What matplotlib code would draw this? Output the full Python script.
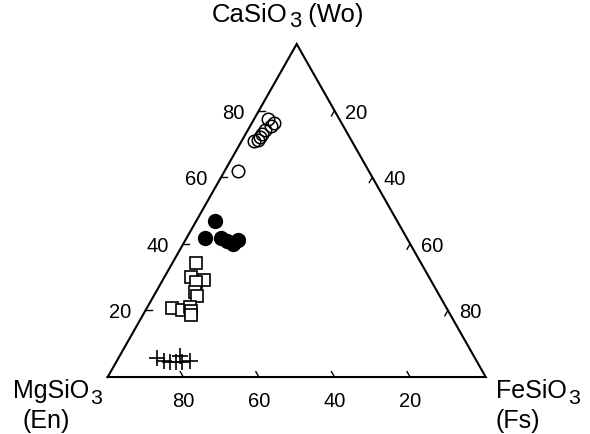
import numpy as np
import matplotlib
matplotlib.use('Agg')
from matplotlib import pyplot as plt

plt.rcParams['font.family'] = ['Liberation Sans', 'DejaVu Sans']

# compositions in mol% : Wo (CaSiO3) and Fs (FeSiO3), En = 100 - Wo - Fs
open_wo = [77.4, 76.2, 75.3, 74.1, 72.9, 72.0, 71.1, 70.8, 62.0]
open_fs = [3.6, 5.8, 5.5, 4.5, 4.3, 4.4, 4.1, 3.3, 3.6]

filled_wo = [47.0, 41.6, 41.6, 40.7, 41.0, 39.8]
filled_fs = [4.8, 4.9, 9.1, 11.2, 13.9, 13.2]

square_wo = [34.3, 30.1, 29.2, 28.6, 25.6, 24.4, 20.8, 20.2, 21.1, 19.9, 18.7]
square_fs = [6.1, 6.9, 10.8, 9.0, 10.2, 11.3, 6.5, 9.5, 11.2, 12.0, 12.6]

cross_wo = [5.7, 4.8, 4.5, 4.5, 6.3, 4.5, 4.8]
cross_fs = [10.1, 12.4, 14.1, 15.7, 16.1, 17.3, 19.5]

tick_values = [20, 40, 60, 80]


def tern(wo, fs):
    # ternary (Wo, Fs) in % -> cartesian, En at (0,0), Fs at (1,0), Wo at top
    wo = np.asarray(wo, dtype=float) / 100.0
    fs = np.asarray(fs, dtype=float) / 100.0
    return fs + wo / 2.0, wo * np.sqrt(3) / 2.0


def formula(ax, x, y, name, sub, tail='', size=18):
    # chemical formula with a big, low subscript like the original figure
    t = ax.text(x, y, name, ha='left', va='baseline', fontsize=size)
    s = ax.annotate(sub, xy=(1, 0), xycoords=t, xytext=(1, -5),
                    textcoords='offset pixels', ha='left', va='bottom',
                    fontsize=size * 0.85)
    if tail:
        ax.annotate(tail, xy=(1, 0), xycoords=(s, t), ha='left', va='bottom',
                    fontsize=size)


fig = plt.figure(figsize=(5.9, 4.35), dpi=100)
ax = fig.add_axes([0, 0, 1, 1])
ax.set_xlim(-0.2849, 1.2759)
ax.set_ylim(-0.1482, 0.9831)
ax.axis('off')

# triangle outline
tx, ty = tern([0, 0, 100, 0], [0, 100, 0, 0])
ax.plot(tx, ty, color='black', lw=1.5, solid_joinstyle='miter', zorder=1)

d = 1.6  # tick length in %
fs_lab = 14.5
for v in tick_values:
    # left edge: Wo ticks (horizontal)
    x, y = tern([v, v], [0, d])
    ax.plot(x, y, color='black', lw=1.0)
    ax.text(x[0] - 0.037, y[0] - 0.004, str(v), ha='right', va='center', fontsize=fs_lab)
    # bottom edge: En ticks (parallel to right edge)
    x, y = tern([0, d], [100 - v, 100 - v - d])
    ax.plot(x, y, color='black', lw=1.0)
    ax.text(x[0], y[0] - 0.036, str(v), ha='center', va='top', fontsize=fs_lab)
    # right edge: Fs ticks (parallel to left edge)
    x, y = tern([100 - v, 100 - v - d], [v, v])
    ax.plot(x, y, color='black', lw=1.0)
    ax.text(x[0] + 0.029, y[0] - 0.004, str(v), ha='left', va='center', fontsize=fs_lab)

# data
x, y = tern(cross_wo, cross_fs)
ax.plot(x, y, ls='none', marker='+', ms=11, mew=1.2, color='black')
x, y = tern(square_wo, square_fs)
ax.plot(x, y, ls='none', marker='s', ms=9, mew=1.2, mfc='white', mec='black')
x, y = tern(filled_wo, filled_fs)
ax.plot(x, y, ls='none', marker='o', ms=10, color='black')
x, y = tern(open_wo, open_fs)
ax.plot(x, y, ls='none', marker='o', ms=9, mew=1.1, mfc='none', mec='black')

# vertex labels
formula(ax, 0.2759, 0.926, 'CaSiO', '3', ' (Wo)', size=18.5)
formula(ax, -0.2505, -0.052, 'MgSiO', '3')
ax.text(-0.2267, -0.130, '(En)', ha='left', va='baseline', fontsize=18)
formula(ax, 1.027, -0.052, 'FeSiO', '3')
ax.text(1.027, -0.130, '(Fs)', ha='left', va='baseline', fontsize=18)

fig.savefig('out.png', dpi=100)
